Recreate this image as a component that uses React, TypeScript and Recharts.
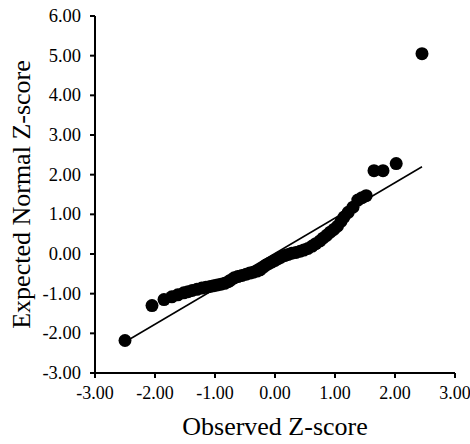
import { ScatterChart, Scatter, XAxis, YAxis } from 'recharts';

// observed vs expected z-scores
const observed = [
  -2.5, -2.05, -1.85, -1.72, -1.62, -1.52, -1.45, -1.38, -1.3, -1.22, -1.15, -1.08, -1.02, -0.96,
  -0.9, -0.84, -0.78, -0.74, -0.68, -0.62, -0.55, -0.48, -0.42, -0.36, -0.3, -0.25, -0.2, -0.15,
  -0.1, -0.05, 0.0, 0.05, 0.1, 0.16, 0.22, 0.28, 0.35, 0.42, 0.48, 0.55, 0.62, 0.68, 0.75, 0.8,
  0.86, 0.92, 0.98, 1.04, 1.1, 1.15, 1.22, 1.3, 1.38, 1.45, 1.52, 1.65, 1.8, 2.02, 2.45,
];
const expected = [
  -2.18, -1.3, -1.15, -1.08, -1.03, -0.98, -0.95, -0.92, -0.89, -0.86, -0.84, -0.82, -0.8, -0.78,
  -0.76, -0.74, -0.7, -0.66, -0.6, -0.57, -0.54, -0.51, -0.48, -0.46, -0.43, -0.4, -0.34, -0.28,
  -0.24, -0.2, -0.16, -0.12, -0.08, -0.04, -0.01, 0.02, 0.04, 0.07, 0.1, 0.14, 0.2, 0.26, 0.33, 0.4,
  0.47, 0.55, 0.62, 0.7, 0.82, 0.93, 1.05, 1.18, 1.36, 1.42, 1.47, 2.1, 2.1, 2.28, 5.05,
];

// fitted reference line end points
const fitX = [-2.48, 2.45];
const fitY = [-2.2, 2.2];

const xTicks = [-3, -2, -1, 0, 1, 2, 3];
const yTicks = [-3, -2, -1, 0, 1, 2, 3, 4, 5, 6];

const points = observed.map((x, i) => ({ x, y: expected[i] }));
const fitLine = fitX.map((x, i) => ({ x, y: fitY[i] }));

const FONT = '"Liberation Serif", "Times New Roman", serif';
const fmt = (v: number) => v.toFixed(2);

const Dot = (p: any) => <circle cx={p.cx} cy={p.cy} r={6.5} fill="#000" />;

// tick labels drawn by hand so the serif font sticks
const XTick = (p: any) => (
  <text x={p.x} y={p.y + 17} textAnchor="middle" fill="#000" style={{ fontFamily: 'Liberation Serif', fontSize: 18 }}>
    {fmt(p.payload.value)}
  </text>
);
const YTick = (p: any) => (
  <text x={p.x - 3} y={p.y + 6} textAnchor="end" fill="#000" style={{ fontFamily: 'Liberation Serif', fontSize: 18.5 }}>
    {fmt(p.payload.value)}
  </text>
);

export default function App() {
  return (
    <div style={{ position: 'absolute', left: 0, top: 0, background: '#fff', fontFamily: FONT }}>
      <ScatterChart
        width={470}
        height={444}
        margin={{ top: 16, right: 15, bottom: 0, left: 0 }}
        style={{ fontFamily: FONT }}
      >
        <XAxis
          type="number"
          dataKey="x"
          domain={[-3, 3]}
          ticks={xTicks}
          height={71}
          stroke="#000"
          strokeWidth={2}
          tickSize={5}
          tickMargin={4}
          tick={<XTick />}
          label={{ value: 'Observed Z-score', position: 'insideBottom', offset: 9, fill: '#000', fontSize: 26, fontFamily: FONT }}
        />
        <YAxis
          type="number"
          dataKey="y"
          domain={[-3, 6]}
          ticks={yTicks}
          width={95}
          stroke="#000"
          strokeWidth={2}
          tickSize={5}
          tickMargin={6}
          tick={<YTick />}
          label={{ value: 'Expected Normal Z-score', angle: -90, position: 'center', dx: -27, fill: '#000', fontSize: 26, fontFamily: FONT }}
        />
        <Scatter
          data={fitLine}
          line={{ stroke: '#000', strokeWidth: 1.5 }}
          shape={() => <g />}
          isAnimationActive={false}
        />
        <Scatter data={points} shape={Dot} isAnimationActive={false} />
      </ScatterChart>
    </div>
  );
}
